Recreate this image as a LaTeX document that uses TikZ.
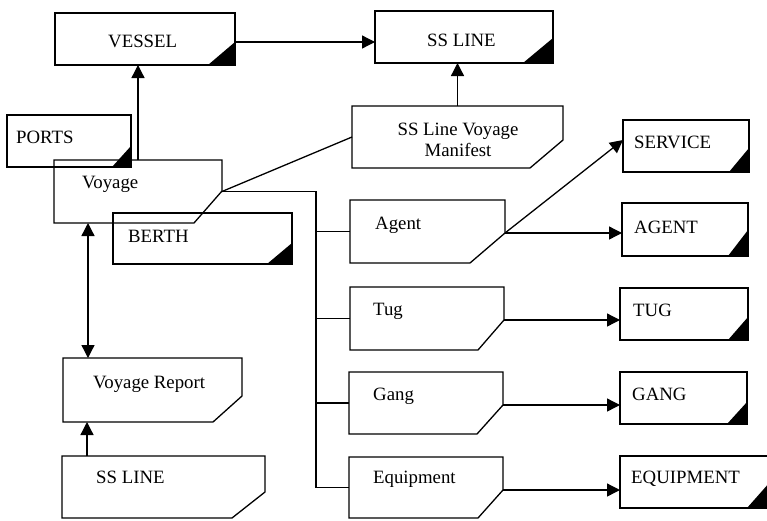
\documentclass[tikz,border=0pt]{standalone}
\usepackage{fontspec}
\setmainfont{Liberation Serif}
\usetikzlibrary{arrows.meta,calc}
\tikzset{
  ln/.style={line width=1.3pt},
  entbox/.style={draw, ln, rectangle, inner sep=0pt, outer sep=0pt},
  formbox/.style={draw=none, rectangle, inner sep=0pt, outer sep=0pt},
  lbl/.style={anchor=base west, inner sep=0pt, font=\fontsize{18.8}{21}\selectfont},
  arr/.style={ln, -{Triangle[length=13pt,width=13pt]}},
  darr/.style={ln, {Triangle[length=13pt,width=13pt]}-{Triangle[length=13pt,width=13pt]}},
}
\newcommand\entcorner[3]{\fill (#1.south east) -- ([xshift=-#2pt]#1.south east) -- ([yshift=#3pt]#1.south east) -- cycle;}
\newcommand\notchline[3]{\draw[ln, line join=miter] (#1.north west) -- (#1.north east) -- ([yshift=#3pt]#1.south east) -- ([xshift=-#2pt]#1.south east) -- (#1.south west) -- cycle;}
\begin{document}
\begin{tikzpicture}[x=1pt,y=-1pt]
\useasboundingbox (0,0) rectangle (767,520);
% entity boxes
\node[entbox, minimum width=180pt, minimum height=52pt] (vessel) at (145,39) {};
\entcorner{vessel}{27}{23}
\node[entbox, minimum width=178pt, minimum height=52pt] (ssline) at (464,37) {};
\entcorner{ssline}{30}{25}
\node[entbox, minimum width=124pt, minimum height=52pt] (ports) at (69,141) {};
\entcorner{ports}{19}{21}
\node[entbox, minimum width=179pt, minimum height=51pt] (berth) at (202.5,238.5) {};
\entcorner{berth}{25}{21}
\node[entbox, minimum width=126pt, minimum height=52pt] (serviceE) at (686,146) {};
\entcorner{serviceE}{20}{24}
\node[entbox, minimum width=126pt, minimum height=53pt] (agentE) at (685,229.5) {};
\entcorner{agentE}{20}{26}
\node[entbox, minimum width=128pt, minimum height=52pt] (tugE) at (684,314) {};
\entcorner{tugE}{20}{23}
\node[entbox, minimum width=127pt, minimum height=52pt] (gangE) at (683.5,398) {};
\entcorner{gangE}{20}{22}
\node[entbox, minimum width=150pt, minimum height=52pt] (equipE) at (695,482) {};
\entcorner{equipE}{23}{26}
% form boxes (cut corner)
\node[formbox, minimum width=168pt, minimum height=63pt] (voyage) at (138,191.5) {};
\notchline{voyage}{28}{32}
\node[formbox, minimum width=211pt, minimum height=62pt] (manifest) at (457.5,137) {};
\notchline{manifest}{33}{28}
\node[formbox, minimum width=155pt, minimum height=63pt] (agentF) at (427.5,231.5) {};
\notchline{agentF}{35}{30}
\node[formbox, minimum width=154pt, minimum height=63pt] (tugF) at (427,318.5) {};
\notchline{tugF}{26}{30}
\node[formbox, minimum width=154pt, minimum height=62pt] (gangF) at (426,403) {};
\notchline{gangF}{26}{29}
\node[formbox, minimum width=154pt, minimum height=61pt] (equipF) at (426,487.5) {};
\notchline{equipF}{25}{28}
\node[formbox, minimum width=179pt, minimum height=64pt] (vreport) at (152.5,390) {};
\notchline{vreport}{29}{26}
\node[formbox, minimum width=203pt, minimum height=62pt] (ssline2) at (163.5,487) {};
\notchline{ssline2}{33}{26}
% labels
\node[lbl] (tvessel) at (108,47) {VESSEL};
\node[lbl] (tssline) at (427,46) {SS LINE};
\node[lbl] (tports) at (16,143) {PORTS};
\node[lbl] (tvoyage) at (82,188) {Voyage};
\node[lbl] (tberth) at (128,242) {BERTH};
\node[lbl, anchor=north, align=center] (tmanifest) at (458,122.5) {SS Line Voyage\\Manifest};
\node[lbl] (tserviceE) at (634,148) {SERVICE};
\node[lbl] (tagentF) at (375,229) {Agent};
\node[lbl] (tagentE) at (634,233) {AGENT};
\node[lbl] (ttugF) at (373,315) {Tug};
\node[lbl] (ttugE) at (633,316) {TUG};
\node[lbl] (tgangF) at (373,400) {Gang};
\node[lbl] (tgangE) at (632,400) {GANG};
\node[lbl] (tequipF) at (373,483) {Equipment};
\node[lbl] (tequipE) at (631,483) {EQUIPMENT};
\node[lbl] (tvreport) at (93,388) {Voyage Report};
\node[lbl] (tssline2) at (96,483) {SS LINE};
% connectors
\draw[arr] ([yshift=-3pt]vessel.east) coordinate (c1) -- (c1 -| ssline.west);
\draw[arr] (voyage.north) -- (voyage.north |- vessel.south);
\draw[ln] (voyage.east) -- (manifest.west);
\draw[arr] (manifest.north) -- (manifest.north |- ssline.south);
\coordinate (bus) at ([xshift=94pt]voyage.east);
\draw[ln] (voyage.east) -- (bus) |- (equipF.west);
\draw[ln] (bus |- agentF.west) -- (agentF.west);
\draw[ln] (bus |- tugF.west) -- (tugF.west);
\draw[ln] (bus |- gangF.west) -- (gangF.west);
\coordinate (agc) at ([yshift=30pt]agentF.south east);
\draw[arr] (agc) -- ([yshift=6pt]serviceE.west);
\draw[arr] (agc) -- (agc -| agentE.west);
\draw[arr] ([yshift=30pt]tugF.south east) coordinate (tc) -- (tc -| tugE.west);
\draw[arr] ([yshift=29pt]gangF.south east) coordinate (gc) -- (gc -| gangE.west);
\draw[arr] ([yshift=28pt]equipF.south east) coordinate (ec) -- (ec -| equipE.west);
\draw[darr] ([xshift=34pt]voyage.south west) coordinate (vd) -- (vd |- vreport.north);
\draw[arr] ([xshift=25pt]ssline2.north west) coordinate (sd) -- (sd |- vreport.south);
\end{tikzpicture}
\end{document}
